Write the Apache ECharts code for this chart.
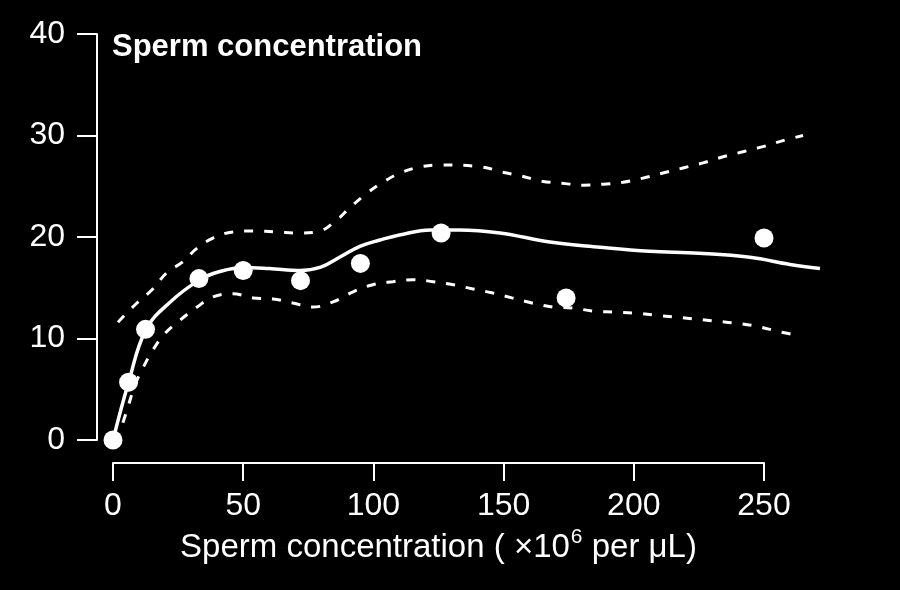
<!DOCTYPE html>
<html>
<head>
<meta charset="utf-8">
<script src="https://cdn.jsdelivr.net/npm/echarts@6/dist/echarts.min.js"></script>
<style>
html,body{margin:0;padding:0;background:#000;}
#chart{width:900px;height:590px;}
</style>
</head>
<body>
<div id="chart"></div>
<script>
// Observed data points (sperm concentration ×10^6/µL, y value)
const pointX = [0, 6, 12.5, 33, 50, 72, 95, 126, 174, 250];
const pointY = [0, 5.7, 10.9, 15.9, 16.7, 15.7, 17.4, 20.4, 14.0, 19.9];

// Fitted curve (solid)
const fitX = [0, 6, 12.7, 22, 33.4, 41, 50, 60, 72, 79.5, 87, 95, 102.5, 110, 122, 133, 148.6, 167.8, 187, 206, 225, 244.6, 260, 271.5];
const fitY = [0, 5.7, 10.9, 13.6, 15.8, 16.6, 17.0, 16.9, 16.7, 17.0, 18.0, 19.1, 19.7, 20.2, 20.7, 20.7, 20.4, 19.5, 19.0, 18.6, 18.4, 18.0, 17.3, 16.9];

// Upper confidence band (dashed)
const upperX = [1.9, 9.2, 15, 20.7, 26.5, 32.3, 38.4, 46, 53.8, 63, 70.7, 78.3, 86, 91, 97.5, 103.7, 110.2, 117.9, 125.6, 141.7, 149.4, 157, 164.7, 172.4, 180.5, 188.2, 195.9, 203.5, 211.2, 218.9, 226.6, 234.3, 241.9, 249.6, 257.3, 265];
const upperY = [11.6, 13.5, 14.8, 16.5, 17.5, 18.9, 19.9, 20.5, 20.6, 20.5, 20.4, 20.5, 21.7, 22.9, 24.3, 25.4, 26.3, 26.9, 27.1, 26.9, 26.4, 26.0, 25.5, 25.3, 25.1, 25.2, 25.4, 25.8, 26.3, 26.8, 27.3, 27.9, 28.4, 28.9, 29.5, 30.0];

// Lower confidence band (dashed)
const lowerX = [3.8, 5.8, 8.4, 11.5, 15.4, 20, 25.7, 32.3, 38.4, 46, 53.8, 61.4, 69.1, 76.8, 84.5, 92.2, 99.8, 107.5, 115.2, 122.9, 130.6, 137.9, 145.5, 153.2, 160.9, 169, 176.6, 184.3, 192, 200.5, 208.1, 216.6, 224.3, 231.9, 239.6, 247.3, 255.4, 263];
const lowerY = [1.7, 3.3, 5.4, 7.1, 8.9, 10.5, 11.8, 13.1, 14.1, 14.4, 14.0, 13.9, 13.5, 13.1, 13.6, 14.6, 15.3, 15.6, 15.8, 15.6, 15.3, 14.9, 14.5, 14.0, 13.5, 13.1, 13.0, 12.7, 12.6, 12.5, 12.3, 12.1, 11.9, 11.7, 11.5, 11.2, 10.7, 10.3];

// Axis ranges / ticks
const xTickMin = 0, xTickMax = 250, xTickStep = 50;
const xDataMax = 280;
const yTickMin = 0, yTickMax = 40, yTickStep = 10;

const titleText = 'Sperm concentration';
const xAxisNameMain = 'Sperm concentration ( ×10';
const xAxisNameSup = '6';
const xAxisNameEnd = ' per μL)';

const zip = (xs, ys) => xs.map((x, i) => [x, ys[i]]);
const FONT = 'Liberation Sans, Arial, sans-serif';

// layout: 250 units span 651 px starting at x=113
const left = 113, axisW = 651;
const dataW = axisW * xDataMax / xTickMax;

const chart = echarts.init(document.getElementById('chart'), null, {renderer: 'canvas'});
chart.setOption({
  backgroundColor: '#000',
  animation: false,
  title: {
    text: titleText,
    left: 112, top: 32, padding: 0,
    textStyle: {color: '#fff', fontSize: 31, fontWeight: 'bold', fontFamily: FONT}
  },
  grid: [
    {left: left, width: dataW, top: 34, height: 406, containLabel: false},
    {left: left, width: axisW, top: 34, height: 406, containLabel: false}
  ],
  xAxis: [
    {
      gridIndex: 0, type: 'value', min: 0, max: xDataMax, show: false
    },
    {
      gridIndex: 1, type: 'value', min: xTickMin, max: xTickMax, interval: xTickStep,
      offset: 23,
      axisLine: {show: true, onZero: false, lineStyle: {color: '#fff', width: 2}},
      axisTick: {show: true, length: 18, lineStyle: {color: '#fff', width: 2}},
      splitLine: {show: false},
      axisLabel: {color: '#fff', fontSize: 32, fontFamily: FONT, margin: 27},
      name: '{m|' + xAxisNameMain + '}{s|' + xAxisNameSup + '}{m|' + xAxisNameEnd + '}',
      nameLocation: 'middle', nameGap: 60,
      nameTextStyle: {
        color: '#fff', fontFamily: FONT,
        rich: {
          m: {color: '#fff', fontSize: 33, fontFamily: FONT, lineHeight: 36, verticalAlign: 'bottom'},
          s: {color: '#fff', fontSize: 21, fontFamily: FONT, lineHeight: 38, verticalAlign: 'top', padding: [0, 0, 0, 1]}
        }
      }
    }
  ],
  yAxis: [
    {
      gridIndex: 0, type: 'value', min: yTickMin, max: yTickMax, interval: yTickStep,
      offset: 16,
      axisLine: {show: true, onZero: false, lineStyle: {color: '#fff', width: 2}},
      axisTick: {show: true, length: 20, lineStyle: {color: '#fff', width: 2}},
      splitLine: {show: false},
      axisLabel: {color: '#fff', fontSize: 32, fontFamily: FONT, margin: 32}
    },
    {
      gridIndex: 1, type: 'value', min: yTickMin, max: yTickMax, show: false
    }
  ],
  series: [
    {
      type: 'line', xAxisIndex: 0, yAxisIndex: 0, data: zip(upperX, upperY), smooth: 0.4, symbol: 'none', clip: false, silent: true,
      lineStyle: {color: '#fff', width: 3, type: [9, 11]}
    },
    {
      type: 'line', xAxisIndex: 0, yAxisIndex: 0, data: zip(lowerX, lowerY), smooth: 0.4, symbol: 'none', clip: false, silent: true,
      lineStyle: {color: '#fff', width: 3, type: [9, 11]}
    },
    {
      type: 'line', xAxisIndex: 0, yAxisIndex: 0, data: zip(fitX, fitY), smooth: 0.4, symbol: 'none', clip: false, silent: true,
      lineStyle: {color: '#fff', width: 3.5}
    },
    {
      type: 'scatter', xAxisIndex: 0, yAxisIndex: 0, data: zip(pointX, pointY), symbol: 'circle', symbolSize: 19, clip: false,
      itemStyle: {color: '#fff', opacity: 1}
    }
  ]
});
</script>
</body>
</html>
